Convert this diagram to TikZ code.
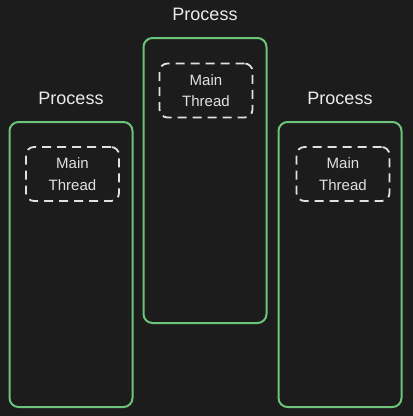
\documentclass[tikz,border=0pt]{standalone}
\usepackage{fontspec}
\setmainfont{Liberation Sans}
\usetikzlibrary{positioning}
\definecolor{bg}{RGB}{28,28,28}
\definecolor{procgreen}{RGB}{108,196,122}
\definecolor{dashwhite}{RGB}{225,225,225}
\tikzset{
  procbox/.style={draw=procgreen, line width=2pt, rounded corners=9pt, minimum width=123pt, minimum height=285pt},
  threadbox/.style={draw=dashwhite, line width=1.8pt, dash pattern=on 9pt off 6pt, rounded corners=8pt, minimum width=93pt, minimum height=54pt, align=center, text=dashwhite, font=\fontsize{15}{21.5}\selectfont},
  proclabel/.style={text=white!92!black, font=\fontsize{18}{21}\selectfont, anchor=base}
}
\newcommand{\proc}[3]{\node[procbox] (#1) at (#2,#3) {}; \node[proclabel] (#1l) at (#2,#3-160) {Process};}
\newcommand{\thread}[3]{\node[threadbox] (#1) at (#2,#3) {Main\\Thread};}

\begin{document}
\begin{tikzpicture}[x=1pt,y=-1pt]
    \fill[bg] (0,0) rectangle (413,416);
    \useasboundingbox (0,0) rectangle (413,416);
    \proc{P1}{71}{264.5}    \thread{T1}{72.5}{174}
    \proc{P2}{205}{180.5}   \thread{T2}{206}{90.5}
    \proc{P3}{340}{264.5}   \thread{T3}{343}{174}
\end{tikzpicture}
\end{document}
